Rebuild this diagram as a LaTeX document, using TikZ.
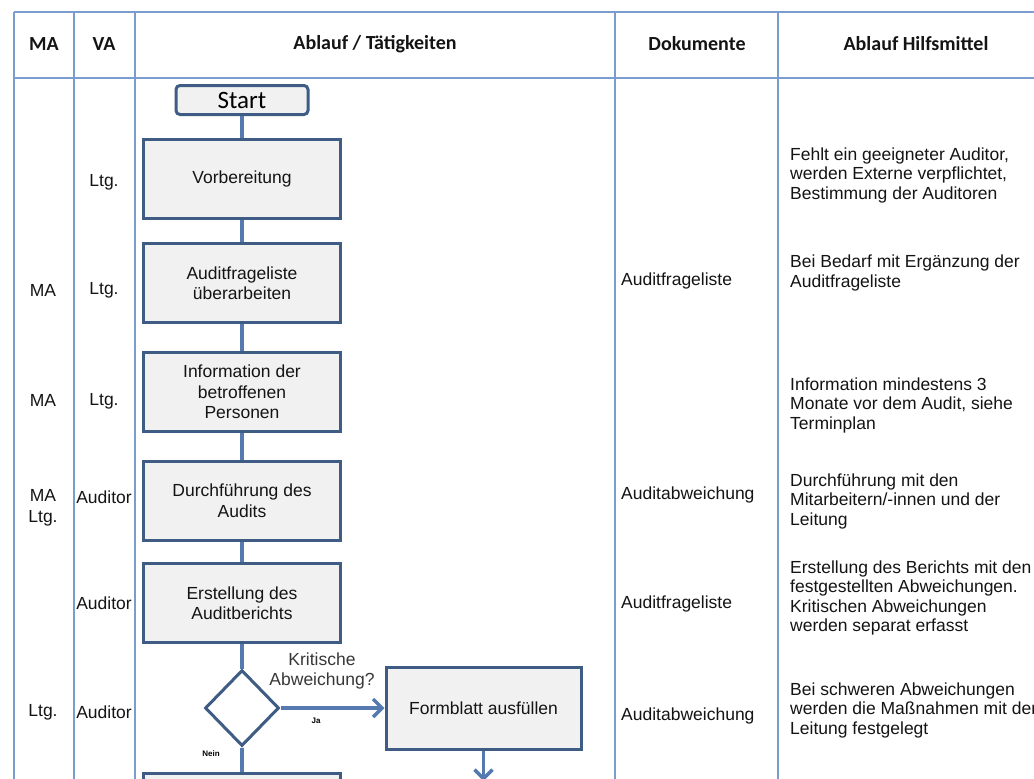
\documentclass[tikz,border=0pt]{standalone}
\usepackage{fontspec}
\setmainfont{Liberation Sans}
\newfontfamily\headfont{Carlito}
\usetikzlibrary{shapes.geometric,arrows.meta}
\definecolor{gridc}{RGB}{122,156,206}
\definecolor{boxc}{RGB}{62,92,132}
\definecolor{boxfill}{RGB}{241,241,241}
\definecolor{connc}{RGB}{84,122,176}
\definecolor{txtc}{RGB}{20,20,20}
\tikzset{
  grid line/.style={draw=gridc, line width=1.8pt},
  head/.style={font=\headfont\bfseries\fontsize{20}{22}\selectfont, text=txtc},
  cell/.style={font=\fontsize{17.5}{20.5}\selectfont, text=txtc, align=center},
  note/.style={font=\fontsize{17.5}{19.5}\selectfont, text=txtc, align=left, anchor=west, inner sep=0pt},
  stepbox/.style={draw=boxc, line width=3pt, fill=boxfill, minimum width=197pt, minimum height=79pt,
    align=center, font=\fontsize{17.5}{20.5}\selectfont, text=txtc, inner sep=2pt},
  startbox/.style={draw=boxc, line width=3pt, fill=boxfill, rounded corners=4pt,
    minimum width=132pt, minimum height=29pt, inner sep=0pt, font=\headfont\fontsize{25}{25}\selectfont},
  decision/.style={draw=boxc, line width=3pt, fill=white, diamond, minimum width=74pt, minimum height=76pt, inner sep=0pt},
  link/.style={draw=connc, line width=4pt},
  flow/.style={draw=connc, line width=3.5pt, -{Straight Barb[length=9pt,width=18pt,line width=3.5pt]}},
  tiny/.style={font=\bfseries\fontsize{8}{9}\selectfont, text=black}
}
\begin{document}
\begin{tikzpicture}[x=1pt,y=-1pt]
\clip (0,0) rectangle (1034,779);
\fill[white] (0,0) rectangle (1034,779);

% table grid
\draw[grid line] (14,12) -- (1040,12);
\draw[grid line] (14,78) -- (1040,78);
\foreach \xx in {14,74,135,615,778} \draw[grid line] (\xx,12) -- (\xx,790);

% header
\node[head] (hMA) at (44,44) {MA};
\node[head] (hVA) at (104,44) {VA};
\node[head] (hAbl) at (375,44) {Ablauf / Tätigkeiten};
\node[head] (hDok) at (697,44) {Dokumente};
\node[head] (hHilf) at (916,44) {Ablauf Hilfsmittel};

% flow chart
\node[startbox] (start) at (242,100) {Start};
\node[stepbox] (vorb) at (242,179) {Vorbereitung};
\node[stepbox] (frag) at (242,283) {Auditfrageliste\\überarbeiten};
\node[stepbox] (info) at (242,392) {Information der\\betroffenen\\Personen};
\node[stepbox] (durch) at (242,500.5) {Durchführung des\\Audits};
\node[stepbox] (erst) at (242,603) {Erstellung des\\Auditberichts};
\node[decision] (krit) at (242,708) {};
\node[stepbox, minimum width=195pt, minimum height=82pt] (form) at (483.5,708) {Formblatt ausfüllen};
\node[stepbox] (next) at (242,813) {};
\coordinate (formout) at (483.5,781);

\draw[link] (start.south) -- (vorb.north);
\draw[link] (vorb.south) -- (frag.north);
\draw[link] (frag.south) -- (info.north);
\draw[link] (info.south) -- (durch.north);
\draw[link] (durch.south) -- (erst.north);
\draw[link] (erst.south) -- (krit.north);
\draw[link] (krit.south) -- (next.north);
\draw[flow] (krit.east) -- (form.west);
\draw[flow] (form.south) -- (formout);

\node[font=\fontsize{17.5}{20}\selectfont, text=txtc!85, align=center] (kq) at (322,671) {Kritische\\Abweichung?};
\node[tiny] (ja) at (316,721) {Ja};
\node[tiny] (nein) at (211,754) {Nein};

% MA column
\node[cell] (ma2) at (43,290) {MA};
\node[cell] (ma3) at (43,400) {MA};
\node[cell] (ma4) at (43,508) {MA\\Ltg.};
\node[cell] (ma6) at (43,712) {Ltg.};

% VA column
\node[cell] (va1) at (104,182) {Ltg.};
\node[cell] (va2) at (104,290) {Ltg.};
\node[cell] (va3) at (104,401) {Ltg.};
\node[cell] (va4) at (104,497) {Auditor};
\node[cell] (va5) at (104,603) {Auditor};
\node[cell] (va6) at (104,712) {Auditor};

% documents
\node[note] (d2) at (621,281) {Auditfrageliste};
\node[note] (d4) at (621,495) {Auditabweichung};
\node[note] (d5) at (621,604) {Auditfrageliste};
\node[note] (d6) at (621,716) {Auditabweichung};

% aids
\node[note] (h1) at (790,175) {Fehlt ein geeigneter Auditor,\\werden Externe verpflichtet,\\Bestimmung der Auditoren};
\node[note] (h2) at (790,273) {Bei Bedarf mit Ergänzung der\\Auditfrageliste};
\node[note] (h3) at (790,405) {Information mindestens 3\\Monate vor dem Audit, siehe\\Terminplan};
\node[note] (h4) at (790,501) {Durchführung mit den\\Mitarbeitern/-innen und der\\Leitung};
\node[note] (h5) at (790,598) {Erstellung des Berichts mit den\\festgestellten Abweichungen.\\Kritischen Abweichungen\\werden separat erfasst};
\node[note] (h6) at (790,710) {Bei schweren Abweichungen\\werden die Maßnahmen mit der\\Leitung festgelegt};
\end{tikzpicture}
\end{document}
